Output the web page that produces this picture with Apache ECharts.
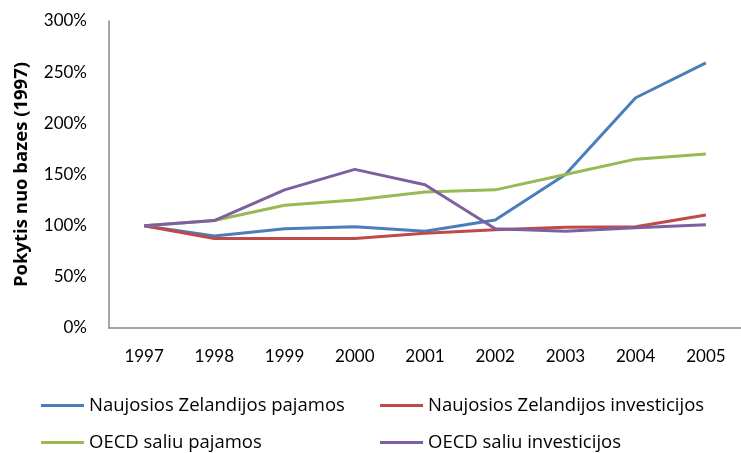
<!DOCTYPE html>
<html>
<head>
<meta charset="utf-8">
<script src="https://cdn.jsdelivr.net/npm/echarts@6/dist/echarts.min.js"></script>
<style>html,body{margin:0;padding:0;background:#fff}#c{width:741px;height:453px}</style>
</head>
<body>
<div id="c"></div>
<script>
const years = ['1997','1998','1999','2000','2001','2002','2003','2004','2005'];
const nzIncome = [100, 90, 97, 99, 94.5, 105.5, 150, 225, 259];
const nzInvest = [100, 87.5, 87.5, 87.5, 92.5, 96, 98.5, 99, 110.5];
const oecdIncome = [100, 105, 120, 125, 133, 135, 150, 165, 170];
const oecdInvest = [100, 105, 135, 155, 140, 97, 94.5, 98, 101];
const seriesNames = ['Naujosios Zelandijos pajamos','Naujosios Zelandijos investicijos','OECD saliu pajamos','OECD saliu investicijos'];
const colors = ['#4A7EBB','#BE4B48','#98B954','#7D60A0'];
const yTicks = [0, 50, 100, 150, 200, 250, 300];

const font = 'Lato, "Open Sans", sans-serif';
const font2 = '"Open Sans", sans-serif';
const dataSets = [nzIncome, nzInvest, oecdIncome, oecdInvest];
const legendPos = [[41, 396], [380, 396], [41, 433], [380, 433]];

const chart = echarts.init(document.getElementById('c'));
chart.setOption({
  animation: false,
  color: colors,
  grid: { left: 109, top: 21, width: 640, bottom: 125, containLabel: false },
  legend: seriesNames.map((n, i) => ({
    data: [n], left: legendPos[i][0], top: legendPos[i][1], padding: 0,
    icon: 'rect', itemWidth: 43, itemHeight: 3, itemGap: 3,
    textStyle: { fontFamily: font2, fontSize: 18.5, color: '#000' }
  })),
  xAxis: {
    type: 'category', data: years, boundaryGap: true,
    axisLine: { lineStyle: { color: '#888', width: 1.5 } },
    axisTick: { show: false },
    axisLabel: { color: '#000', fontSize: 17, fontFamily: font, margin: 20 }
  },
  yAxis: {
    type: 'value', min: yTicks[0], max: yTicks[yTicks.length-1], interval: 50,
    name: 'Pokytis nuo bazes (1997)', nameLocation: 'middle', nameGap: 78,
    nameTextStyle: { fontWeight: 'bold', fontSize: 18.5, fontFamily: font2, color: '#000' },
    axisLine: { show: true, lineStyle: { color: '#888', width: 1.5 } },
    axisTick: { show: false },
    splitLine: { show: false },
    axisLabel: { color: '#000', fontSize: 17, fontFamily: font, margin: 22, formatter: v => v + '%' }
  },
  series: seriesNames.map((n, i) => ({
    name: n, type: 'line', data: dataSets[i], symbol: 'none',
    lineStyle: { width: 3, color: colors[i] }, itemStyle: { color: colors[i] }
  }))
});
</script>
</body>
</html>
